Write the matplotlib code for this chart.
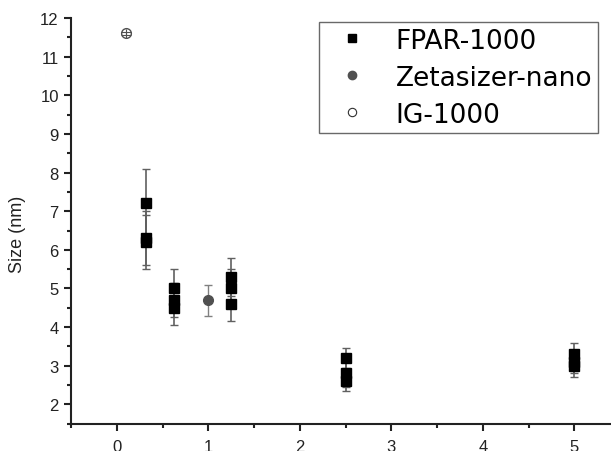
import matplotlib
matplotlib.use("Agg")
import matplotlib.pyplot as plt
from matplotlib.lines import Line2D
from matplotlib.ticker import MultipleLocator

# FPAR-1000 measurements
fpar_x = [0.3125, 0.3125, 0.3125, 0.625, 0.625, 0.625, 1.25, 1.25, 1.25, 2.5, 2.5, 2.5, 5, 5, 5]
fpar_y = [7.2, 6.3, 6.2, 5.0, 4.7, 4.5, 5.3, 5.0, 4.6, 3.2, 2.8, 2.6, 3.3, 3.1, 3.0]
fpar_err = [0.9, 0.7, 0.7, 0.5, 0.45, 0.45, 0.5, 0.5, 0.45, 0.25, 0.35, 0.25, 0.3, 0.3, 0.3]

# Zetasizer-nano
zeta_x = [1.0]
zeta_y = [4.7]
zeta_err = [0.4]

# IG-1000
ig_x = [0.1]
ig_y = [11.6]
ig_err = [0.03]

labels = ["FPAR-1000", "Zetasizer-nano", "IG-1000"]
xticks = [0, 1, 2, 3, 4, 5]
yticks = [2, 3, 4, 5, 6, 7, 8, 9, 10, 11, 12]

plt.rcParams['font.family'] = ['Liberation Sans', 'DejaVu Sans']

fig = plt.figure(figsize=(6.11, 4.52), dpi=100)
ax = fig.add_axes([0.1167, 0.0604, 0.898, 0.8976])

ax.errorbar(fpar_x, fpar_y, yerr=fpar_err, fmt='none', ecolor='#606060',
            elinewidth=1.2, capsize=3, capthick=1.0, zorder=2)
ax.plot(fpar_x, fpar_y, 's', color='black', markersize=7, linestyle='none', zorder=3)

ax.errorbar(zeta_x, zeta_y, yerr=zeta_err, fmt='none', ecolor='#808080',
            elinewidth=1.0, capsize=3, capthick=1.0, zorder=2)
ax.plot(zeta_x, zeta_y, 'o', color='#505050', markersize=7, linestyle='none', zorder=3)

ax.plot(ig_x, ig_y, 'o', markerfacecolor='white', markeredgecolor='#505050',
        markeredgewidth=1.0, markersize=7, linestyle='none', zorder=3)
ax.errorbar(ig_x, ig_y, yerr=ig_err, fmt='none', ecolor='#505050',
            elinewidth=0.8, capsize=3.3, capthick=0.8, zorder=4)
ax.errorbar(ig_x, ig_y, yerr=[0.12], fmt='none', ecolor='#505050',
            elinewidth=0.8, capsize=0, zorder=4)

ax.set_xlim(-0.5, 5.5)
ax.set_ylim(1.5, 12)
ax.set_xticks(xticks)
ax.set_yticks(yticks)
ax.xaxis.set_minor_locator(MultipleLocator(0.5))
ax.yaxis.set_minor_locator(MultipleLocator(0.5))

for s in ['top', 'right']:
    ax.spines[s].set_visible(False)
for s in ['left', 'bottom']:
    ax.spines[s].set_linewidth(1.5)
    ax.spines[s].set_color('#222222')

ax.tick_params(which='major', direction='out', length=5, width=1.5, labelsize=12, colors='#222222')
ax.tick_params(which='minor', direction='out', length=3, width=1.5, colors='#222222')
ax.tick_params(axis='x', pad=6)
ax.tick_params(axis='y', pad=4)

ax.set_ylabel("Size (nm)", fontsize=13, color='#222222')
ax.yaxis.set_label_coords(-0.082, 0.468)

handles = [
    Line2D([], [], marker='s', color='black', linestyle='none', markersize=6),
    Line2D([], [], marker='o', color='#505050', linestyle='none', markersize=6),
    Line2D([], [], marker='o', markerfacecolor='white', markeredgecolor='#303030',
           linestyle='none', markersize=6, markeredgewidth=0.8),
]
leg = fig.legend(handles, labels, loc='upper left', bbox_to_anchor=(0.5226, 0.9485),
                 frameon=True, fancybox=False, borderpad=0.2,
                 labelspacing=0.42, handletextpad=0.6, handlelength=2.1, borderaxespad=0,
                 prop={'family': ['DejaVu Sans'], 'size': 19})
leg.get_frame().set_edgecolor('#444444')
leg.get_frame().set_linewidth(1.0)

fig.savefig("out.png", dpi=100)
